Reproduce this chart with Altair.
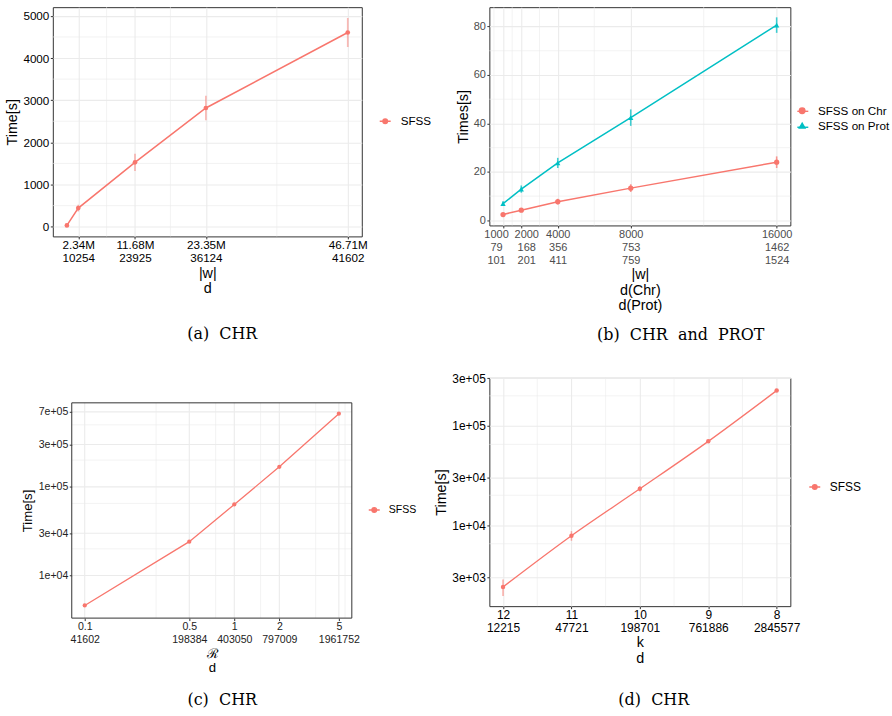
import altair as alt
import pandas as pd

RED = "#F8766D"
CYAN = "#00BFC4"
GRID = "#EBEBEB"
FRAME = "#333333"
SANS = "Liberation Sans"
SERIF = "DejaVu Serif"
GAP = "\u00a0\u00a0"

# legend key (line + marker), in unit symbol coordinates
CIRCLE_KEY = "M-1,0L1,0M0.42,0A0.42,0.42,0,1,1,-0.42,0A0.42,0.42,0,1,1,0.42,0Z"

# ---------------- (a) ----------------
a_w = [0.467, 2.34, 11.68, 23.35, 46.71]          # |w| in millions
a_time = [30, 441, 1526, 2815, 4605]
a_err = [15, 80, 205, 293, 344]
a_xticks = [2.34, 11.68, 23.35, 46.71]
a_xlab_w = ["2.34M", "11.68M", "23.35M", "46.71M"]
a_xlab_d = ["10254", "23925", "36124", "41602"]
a_yticks = [0, 1000, 2000, 3000, 4000, 5000]
a_minor_x = [7.01, 17.515, 35.03]
a_minor_y = [500, 1500, 2500, 3500, 4500]
a_xdom = [-1.85, 49.02]
a_ydom = [-230, 5206]

# ---------------- (b) ----------------
b_series = ["SFSS on Chr", "SFSS on Prot"]
b_w = [1000, 2000, 4000, 8000, 16000]
b_chr = [2.4, 4.2, 7.7, 13.3, 24.0]
b_chr_err = [0.5, 0.8, 1.2, 1.6, 2.4]
b_prot = [6.9, 12.9, 23.7, 42.4, 80.6]
b_prot_err = [1.0, 1.5, 2.1, 3.4, 3.2]
b_xlab_dchr = ["79", "168", "356", "753", "1462"]
b_xlab_dprot = ["101", "201", "411", "759", "1524"]
b_yticks = [0, 20, 40, 60, 80]
b_minor_x = [500, 1500, 3000, 6000, 12000]
b_minor_y = [10, 30, 50, 70]
b_xdom = [250, 16750]
b_ydom = [-2.1, 88.0]

# ---------------- (c) ----------------
c_r = [0.1, 0.5, 1, 2, 5]
c_time = [4600, 24100, 63300, 168000, 667000]
c_xlab_d = ["41602", "198384", "403050", "797009", "1961752"]
c_yticks = [1e4, 3e4, 1e5, 3e5, 7e5]
c_ylab = ["1e+04", "3e+04", "1e+05", "3e+05", "7e+05"]
c_minor_x = [0.3, 0.75, 1.5, 3.5, 5.5]
c_minor_y = [2e4, 6.5e4, 2e5, 5e5]
c_xdom = [0.0819, 6.105]
c_ydom = [3311, 885000]

# ---------------- (d) ----------------
d_k = [12, 11, 10, 9, 8]
d_time = [2389, 7833, 23200, 69700, 226000]
d_err = [450, 870, 1400, 1500, 3000]
d_xlab_d = ["12215", "47721", "198701", "761886", "2845577"]
d_yticks = [3e3, 1e4, 3e4, 1e5, 3e5]
d_ylab = ["3e+03", "1e+04", "3e+04", "1e+05", "3e+05"]
d_minor_x = [11.5, 10.5, 9.5, 8.5]
d_minor_y = [6.5e3, 2e4, 6.5e4, 2e5]
d_xdom = [7.8, 12.2]
d_ydom = [1531, 303000]


def lab_expr(values, *lines):
    expr = "''"
    for i in reversed(range(len(values))):
        v = values[i]
        parts = [str(l[i]) for l in lines]
        if len(parts) > 1:
            txt = "[" + ", ".join("'" + p + "'" for p in parts) + "]"
        else:
            txt = "'" + parts[0] + "'"
        tol = abs(v) * 1e-6 + 1e-9
        expr = f"abs(datum.value - ({v!r})) <= {tol!r} ? {txt} : ({expr})"
    return expr


def axis(**kw):
    base = dict(domain=False, tickColor=FRAME, tickSize=2.5, tickWidth=1,
                labelFont=SANS, titleFont=SANS, titleFontWeight="normal",
                labelOverlap=False, labelFlush=False, gridColor=GRID, gridWidth=1.1)
    base.update(kw)
    return alt.Axis(**base)


def key_legend(x, y, size, color, **kw):
    base = dict(title=None, orient="none", legendX=x, legendY=y, labelFont=SANS,
                labelFontSize=size, labelColor="black", symbolType=CIRCLE_KEY,
                symbolSize=121, symbolStrokeWidth=1.4, symbolStrokeColor=color,
                symbolFillColor=color, padding=0, labelOffset=9)
    base.update(kw)
    return alt.Legend(**base)


def caption(text, offset, dx):
    return alt.TitleParams(text=text, orient="bottom", anchor="middle", frame="group",
                           font=SERIF, fontSize=16, fontWeight="normal", color="black",
                           offset=offset, dx=dx)


def rules_v(vals, enc_x, width, **extra):
    return alt.Chart(pd.DataFrame({"v": vals})).mark_rule(color=GRID, strokeWidth=width).encode(
        x=enc_x("v"), **extra)


def rules_h(vals, enc_y, width, **extra):
    return alt.Chart(pd.DataFrame({"v": vals})).mark_rule(color=GRID, strokeWidth=width).encode(
        y=enc_y("v"), **extra)


# ================= panel (a) =================
a_df = pd.DataFrame({"w": a_w, "time": a_time, "err": a_err, "series": ["SFSS"] * len(a_w)})
a_xs = alt.Scale(domain=a_xdom, nice=False, zero=False)
a_ys = alt.Scale(domain=a_ydom, nice=False, zero=False)
a_cs = alt.Scale(domain=["SFSS"], range=[RED])
a_xa = axis(values=a_xticks, labelExpr=lab_expr(a_xticks, a_xlab_w, a_xlab_d), title=["|w|", "d"],
            labelFontSize=11.7, labelColor="black", labelLineHeight=12.7, labelPadding=1,
            titleFontSize=14.4, titleColor="black", titleLineHeight=15, titlePadding=2)
a_ya = axis(values=a_yticks, format="d", title="Time[s]", labelFontSize=11.7, labelColor="black",
            labelPadding=1.5, titleFontSize=14.4, titleColor="black", titlePadding=3)
a_leg = key_legend(327, 108, 11.7, RED)


def a_X(f):
    return alt.X(f"{f}:Q", scale=a_xs, axis=a_xa)


def a_Y(f):
    return alt.Y(f"{f}:Q", scale=a_ys, axis=a_ya)


a_C = alt.Color("series:N", scale=a_cs, legend=a_leg)
a_base = alt.Chart(a_df)
a_err_l = a_base.transform_calculate(lo="datum.time - datum.err", hi="datum.time + datum.err").mark_rule(
    strokeWidth=1.7, strokeOpacity=0.5).encode(x=a_X("w"), y=a_Y("lo"), y2="hi:Q", color=a_C)
a_line = a_base.mark_line(strokeWidth=1.5).encode(x=a_X("w"), y=a_Y("time"), color=a_C)
a_pts = a_base.mark_point(filled=True, size=22, opacity=1).encode(x=a_X("w"), y=a_Y("time"), color=a_C)
a_chart = alt.layer(rules_v(a_minor_x, a_X, 0.6), rules_h(a_minor_y, a_Y, 0.6),
                    a_err_l, a_line, a_pts).properties(
    width=310, height=230, title=caption(f"(a){GAP}CHR", 32, 15))

# ================= panel (b) =================
b_rows = []
for name, vals, errs in [(b_series[0], b_chr, b_chr_err), (b_series[1], b_prot, b_prot_err)]:
    for w, v, e in zip(b_w, vals, errs):
        b_rows.append({"w": w, "time": v, "err": e, "series": name})
b_df = pd.DataFrame(b_rows)
b_xs = alt.Scale(domain=b_xdom, nice=False, zero=False)
b_ys = alt.Scale(domain=b_ydom, nice=False, zero=False)
b_cs = alt.Scale(domain=b_series, range=[RED, CYAN])
b_ks = alt.Scale(range=[RED, CYAN])
b_ss = alt.Scale(domain=b_series, range=["circle", "triangle-up"])
b_xa = axis(values=b_w, labelExpr=lab_expr(b_w, [str(v) for v in b_w], b_xlab_dchr, b_xlab_dprot),
            title=["|w|", "d(Chr)", "d(Prot)"], labelFontSize=11, labelColor="#4D4D4D",
            labelLineHeight=13, labelPadding=1, titleFontSize=14.4, titleColor="black",
            titleLineHeight=15.5, titlePadding=2,
            labelOffset={"condition": [{"test": "datum.value === 1000", "value": -7},
                                       {"test": "datum.value === 2000", "value": 5}], "value": 0})
b_ya = axis(values=b_yticks, format="d", title="Times[s]", labelFontSize=11, labelColor="#4D4D4D",
            labelPadding=1.5, titleFontSize=14.4, titleColor="black", titlePadding=3)
b_leg_pos = dict(title=None, orient="none", legendX=308, legendY=98, labelFont=SANS,
                 labelFontSize=11.7, labelColor="black", padding=0, labelOffset=10, rowPadding=2)
b_leg = alt.Legend(symbolSize=30, symbolType="circle", **b_leg_pos)
b_key_leg = alt.Legend(symbolSize=121, symbolType="stroke", symbolStrokeWidth=1.4,
                       labelOpacity=0, **b_leg_pos)


def b_X(f):
    return alt.X(f"{f}:Q", scale=b_xs, axis=b_xa)


def b_Y(f):
    return alt.Y(f"{f}:Q", scale=b_ys, axis=b_ya)


b_C = alt.Color("series:N", scale=b_cs, legend=b_leg)
b_base = alt.Chart(b_df)
b_err_l = b_base.transform_calculate(lo="datum.time - datum.err", hi="datum.time + datum.err").mark_rule(
    strokeWidth=1.6, strokeOpacity=0.75).encode(x=b_X("w"), y=b_Y("lo"), y2="hi:Q", color=b_C)
b_line = b_base.mark_line(strokeWidth=1.5).encode(
    x=b_X("w"), y=b_Y("time"), stroke=alt.Stroke("series:N", scale=b_ks, legend=b_key_leg))
b_pts = b_base.mark_point(filled=True, size=28, opacity=1).encode(
    x=b_X("w"), y=b_Y("time"), color=b_C, shape=alt.Shape("series:N", scale=b_ss, legend=b_leg))
b_chart = alt.layer(rules_v(b_minor_x, b_X, 0.6), rules_h(b_minor_y, b_Y, 0.6),
                    b_err_l, b_line, b_pts).properties(
    width=302, height=219, title=caption(f"(b){GAP}CHR{GAP}and{GAP}PROT", 15, 41))

# ================= panel (c) =================
c_df = pd.DataFrame({"r": c_r, "time": c_time, "series": ["SFSS"] * len(c_r)})
c_xs = alt.Scale(type="log", domain=c_xdom, range=[19, 300], nice=False)
c_ys = alt.Scale(type="log", domain=c_ydom, range=[241, 25], nice=False)
c_cs = alt.Scale(domain=["SFSS"], range=[RED])
c_xa = axis(values=c_r, labelExpr=lab_expr(c_r, [str(v) for v in c_r], c_xlab_d), title=["ℛ", "d"],
            grid=False, labelFontSize=10.6, labelColor="#222222", labelLineHeight=13.3, labelPadding=1,
            titleFontSize=13.2, titleColor="black", titleLineHeight=14, titlePadding=2)
c_ya = axis(values=c_yticks, labelExpr=lab_expr(c_yticks, c_ylab), title="Time[s]", grid=False, offset=-19,
            labelFontSize=10.6, labelColor="#222222", labelPadding=1.5, titleFontSize=13.2,
            titleColor="black", titlePadding=4)
c_leg = key_legend(316, 126, 10.6, RED, labelOffset=8)


def c_X(f):
    return alt.X(f"{f}:Q", scale=c_xs, axis=c_xa)


def c_Y(f):
    return alt.Y(f"{f}:Q", scale=c_ys, axis=c_ya)


c_ylim = dict(y=alt.datum(c_ydom[0], scale=c_ys, axis=c_ya), y2=alt.datum(c_ydom[1]))
c_xlim = dict(x=alt.datum(c_xdom[0], scale=c_xs, axis=c_xa), x2=alt.datum(c_xdom[1]))
c_C = alt.Color("series:N", scale=c_cs, legend=c_leg)
c_frame = alt.Chart(pd.DataFrame({"x0": [c_xdom[0]], "x1": [c_xdom[1]], "y0": [c_ydom[0]], "y1": [c_ydom[1]]})).mark_rect(
    fillOpacity=0, stroke=FRAME, strokeWidth=1).encode(x=c_X("x0"), x2="x1:Q", y=c_Y("y0"), y2="y1:Q")
c_base = alt.Chart(c_df)
c_line = c_base.mark_line(strokeWidth=1.3).encode(x=c_X("r"), y=c_Y("time"), color=c_C)
c_pts = c_base.mark_point(filled=True, size=18, opacity=1).encode(x=c_X("r"), y=c_Y("time"), color=c_C)
c_chart = alt.layer(
    rules_v(c_minor_x, c_X, 0.6, **c_ylim), rules_h(c_minor_y, c_Y, 0.6, **c_xlim),
    rules_v(c_r, c_X, 1.1, **c_ylim), rules_h(c_yticks, c_Y, 1.1, **c_xlim),
    c_frame, c_line, c_pts).properties(
    width=300, height=241, title=caption(f"(c){GAP}CHR", 19, 20),
    view=alt.ViewBackground(strokeOpacity=0))

# ================= panel (d) =================
d_df = pd.DataFrame({"k": d_k, "time": d_time, "err": d_err, "series": ["SFSS"] * len(d_k)})
d_xs = alt.Scale(domain=d_xdom, reverse=True, nice=False, zero=False)
d_ys = alt.Scale(type="log", domain=d_ydom, nice=False)
d_cs = alt.Scale(domain=["SFSS"], range=[RED])
d_xa = axis(values=d_k, labelExpr=lab_expr(d_k, [str(v) for v in d_k], d_xlab_d), title=["k", "d"],
            labelFontSize=12, labelColor="black", labelLineHeight=13.3, labelPadding=1,
            titleFontSize=14.4, titleColor="black", titleLineHeight=15.5, titlePadding=2)
d_ya = axis(values=d_yticks, labelExpr=lab_expr(d_yticks, d_ylab), title="Time[s]", labelFontSize=12,
            labelColor="black", labelPadding=1.5, titleFontSize=14.4, titleColor="black", titlePadding=3)
d_leg = key_legend(320, 103, 12, RED, labelOffset=8.5)


def d_X(f):
    return alt.X(f"{f}:Q", scale=d_xs, axis=d_xa)


def d_Y(f):
    return alt.Y(f"{f}:Q", scale=d_ys, axis=d_ya)


d_C = alt.Color("series:N", scale=d_cs, legend=d_leg)
d_base = alt.Chart(d_df)
d_err_l = d_base.transform_calculate(lo="datum.time - datum.err", hi="datum.time + datum.err").mark_rule(
    strokeWidth=1.5, strokeOpacity=0.6).encode(x=d_X("k"), y=d_Y("lo"), y2="hi:Q", color=d_C)
d_line = d_base.mark_line(strokeWidth=1.3, interpolate="monotone").encode(x=d_X("k"), y=d_Y("time"), color=d_C)
d_pts = d_base.mark_point(filled=True, size=20, opacity=1).encode(x=d_X("k"), y=d_Y("time"), color=d_C)
d_chart = alt.layer(rules_v(d_minor_x, d_X, 0.6), rules_h(d_minor_y, d_Y, 0.6),
                    d_err_l, d_line, d_pts).properties(
    width=302, height=229, title=caption(f"(d){GAP}CHR", 27, 14))


def indep(c):
    return c.resolve_scale(color="independent", shape="independent", stroke="independent").resolve_legend(
        color="independent", shape="independent", stroke="independent")


row1 = indep(alt.hconcat(a_chart, b_chart, spacing=22))
row2 = indep(alt.hconcat(c_chart, d_chart, spacing=16))
chart = indep(alt.vconcat(row1, row2, spacing=27)).properties(
    padding={"left": 4, "top": 5, "right": 0, "bottom": 0}
).configure(background="white").configure_view(stroke=FRAME, strokeWidth=1)

chart.save("out.html", embed_options={"renderer": "svg", "actions": False})
